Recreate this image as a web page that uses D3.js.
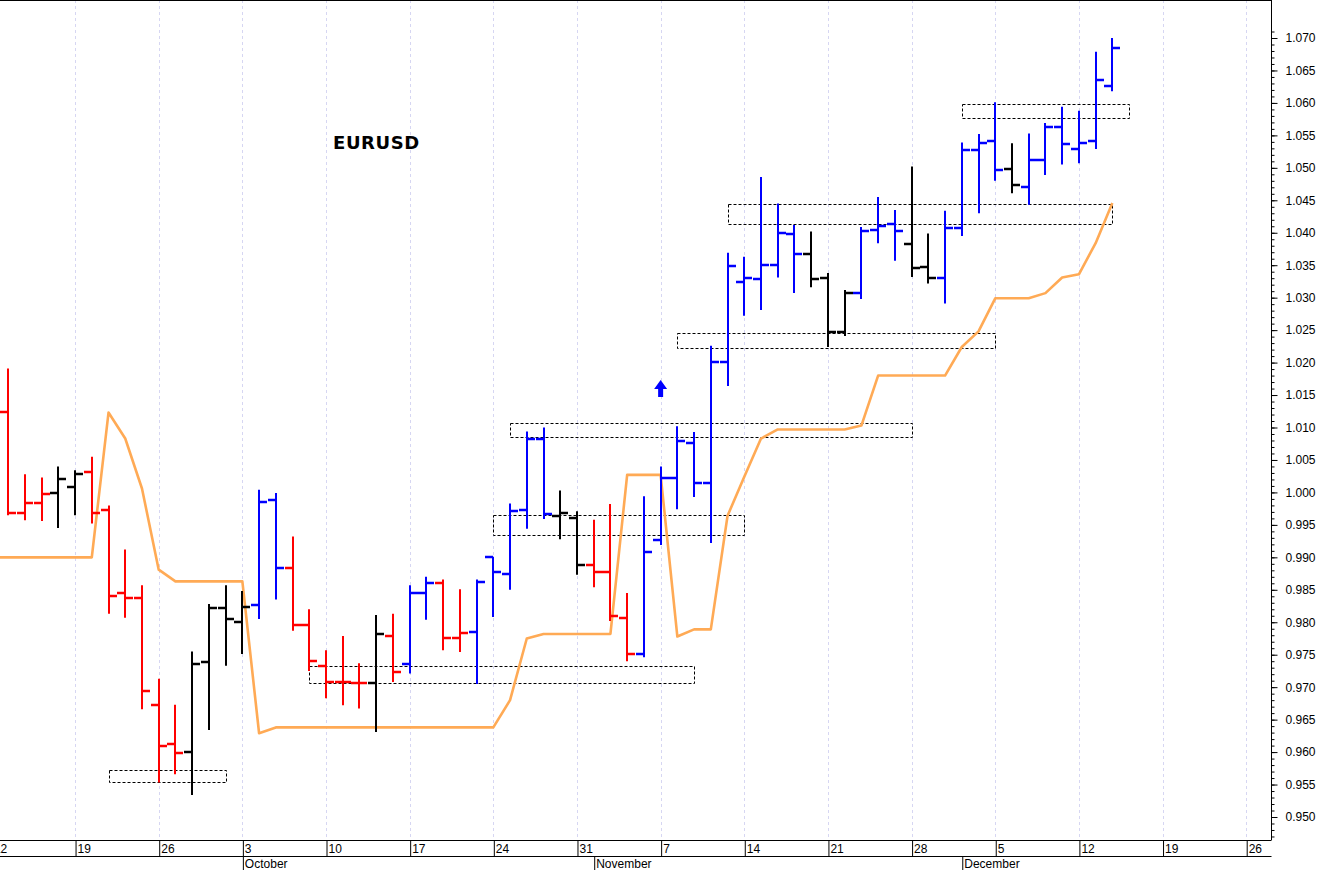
<!DOCTYPE html>
<html><head><meta charset="utf-8">
<script src="https://cdn.jsdelivr.net/npm/d3@7"></script>
<style>body{margin:0;background:#fff}svg{display:block}</style>
</head><body>
<script>
// ---- data (trading-day index: 0 = Mon 12 Sep) ----
const barIndex = d3.range(1, 68);
const opens  = [1.0124,0.9969,0.9983,0.9999,1.0009,1.0031,0.9973,0.9845,0.9837,0.9672,0.9612,0.9600,0.9738,0.9822,0.9800,0.9826,0.9988,0.9883,0.9795,0.9733,0.9708,0.9706,0.9706,0.9779,0.9736,0.9845,0.9860,0.9775,0.9785,0.9900,0.9874,0.9973,1.0082,0.9964,0.9960,0.9888,0.9877,0.9807,0.9751,0.9927,1.0022,1.0076,1.0014,1.0201,1.0324,1.0328,1.0350,1.0398,1.0367,1.0331,1.0247,1.0307,1.0404,1.0413,1.0382,1.0347,1.0330,1.0407,1.0527,1.0541,1.0498,1.0471,1.0512,1.0563,1.0529,1.0541,1.0626];
const highs  = [1.0191,1.0028,1.0023,1.0040,1.0034,1.0055,0.9980,0.9912,0.9857,0.9713,0.9673,0.9755,0.9828,0.9857,0.9848,1.0004,0.9999,0.9932,0.9820,0.9757,0.9779,0.9737,0.9811,0.9813,0.9857,0.9870,0.9866,0.9851,0.9866,0.9901,0.9983,1.0094,1.0100,1.0003,0.9971,0.9958,0.9982,0.9845,0.9994,1.0040,1.0102,1.0093,1.0226,1.0369,1.0363,1.0486,1.0445,1.0412,1.0402,1.0338,1.0312,1.0409,1.0455,1.0435,1.0502,1.0399,1.0434,1.0539,1.0552,1.0601,1.0538,1.0553,1.0569,1.0594,1.0588,1.0679,1.0700];
const lows   = [0.9965,0.9957,0.9956,0.9945,0.9965,0.9952,0.9813,0.9807,0.9666,0.9553,0.9566,0.9534,0.9634,0.9733,0.9751,0.9805,0.9835,0.9787,0.9725,0.9683,0.9672,0.9667,0.9631,0.9708,0.9721,0.9804,0.9757,0.9754,0.9705,0.9808,0.9850,0.9944,0.9959,0.9928,0.9873,0.9854,0.9802,0.9740,0.9746,0.9919,0.9974,0.9993,0.9922,1.0164,1.0272,1.0281,1.0331,1.0307,1.0316,1.0224,1.0241,1.0298,1.0384,1.0357,1.0332,1.0322,1.0291,1.0395,1.0430,1.0480,1.0461,1.0443,1.0489,1.0505,1.0507,1.0529,1.0618];
const closes = [0.9969,0.9983,0.9998,1.0021,1.0028,0.9969,0.9840,0.9837,0.9694,0.9610,0.9598,0.9736,0.9822,0.9805,0.9824,0.9985,0.9884,0.9796,0.9740,0.9708,0.9708,0.9706,0.9782,0.9724,0.9845,0.9860,0.9775,0.9783,0.9862,0.9877,0.9971,1.0083,0.9966,0.9968,0.9888,0.9877,0.9809,0.9751,0.9908,1.0022,1.0079,1.0015,1.0201,1.0349,1.0330,1.0350,1.0399,1.0367,1.0329,1.0247,1.0307,1.0402,1.0411,1.0403,1.0345,1.0330,1.0407,1.0527,1.0539,1.0497,1.0473,1.0512,1.0563,1.0536,1.0539,1.0636,1.0684];
const barColors = "rrrkkrrrrrrkkkkbbrrrrrkrbbrrbbbbbkkrrrbbbbbbbbbbkkkbbbkkbbbbkbbbbbb";

const lineIndex = d3.range(0, 68);
const lineValues = [0.9900,0.9900,0.9900,0.9900,0.9900,0.9900,0.9900,1.0123,1.0083,1.0006,0.9881,0.9863,0.9863,0.9863,0.9863,0.9863,0.9629,0.9638,0.9638,0.9638,0.9638,0.9638,0.9638,0.9638,0.9638,0.9638,0.9638,0.9638,0.9638,0.9638,0.9638,0.9680,0.9775,0.9782,0.9782,0.9782,0.9782,0.9782,1.0027,1.0027,1.0027,0.9778,0.9789,0.9789,0.9964,1.0024,1.0083,1.0097,1.0097,1.0097,1.0097,1.0097,1.0103,1.0180,1.0180,1.0180,1.0180,1.0180,1.0224,1.0248,1.0299,1.0299,1.0299,1.0307,1.0331,1.0336,1.0384,1.0446];

const boxStart = [7, 19, 30, 31, 41, 44, 58];
const boxEnd   = [14, 42, 45, 55, 60, 67, 68];
const boxHigh  = [0.9572, 0.9732, 0.99645, 1.0107, 1.0245, 1.0445, 1.0599];
const boxLow   = [0.9554, 0.9706, 0.9934, 1.0086, 1.0222, 1.0413, 1.0576];

const arrowIndex = [40];
const arrowTop = [1.0173];
const arrowBottom = [1.0147];

const weekIndex  = [0,5,10,15,20,25,30,35,40,45,50,55,60,65,70,75];
const weekLabels = ["12","19","26","3","10","17","24","31","7","14","21","28","5","12","19","26"];
const monthIndex  = [15, 36, 58];
const monthLabels = ["October","November","December"];
const priceTicks = d3.range(0, 25).map(k => +(0.950 + k*0.005).toFixed(3));
const priceMinor = d3.range(0, 126).map(k => +(0.946 + k*0.001).toFixed(3));
const title = "EURUSD";

// ---- layout ----
const W = 1319, H = 870, plotR = 1271.5, plotB = 840;
const x = d3.scaleLinear().domain([0, 75]).range([-8.6, 1246.2]);
const y = d3.scaleLinear().domain([0.950, 1.070]).range([817, 38]);
const col = {r: "#ff0000", b: "#0000ff", k: "#000000"};

const svg = d3.select("body").append("svg").attr("width", W).attr("height", H)
  .style("font-family", "Arial, 'Liberation Sans', sans-serif");

svg.append("defs").append("clipPath").attr("id", "plotclip")
  .append("rect").attr("x", 0).attr("y", 0).attr("width", plotR).attr("height", plotB);

// grid
svg.append("g").selectAll("line").data(weekIndex).join("line")
  .attr("x1", d => Math.round(x(d)) + 0.5).attr("x2", d => Math.round(x(d)) + 0.5)
  .attr("y1", 0).attr("y2", plotB)
  .attr("stroke", "#d6d6f2").attr("stroke-width", 1).attr("stroke-dasharray", "3,3");

const plot = svg.append("g").attr("clip-path", "url(#plotclip)");

// title
plot.append("text").attr("x", 333).attr("y", 149).text(title)
  .style("font-family", "'DejaVu Sans', Verdana, sans-serif")
  .style("font-weight", "bold").style("font-size", "18px").style("letter-spacing", "0.6px");

// boxes
const boxes = boxStart.map((s, i) => ({s, e: boxEnd[i], hi: boxHigh[i], lo: boxLow[i]}));
plot.append("g").selectAll("rect").data(boxes).join("rect")
  .attr("x", d => Math.round(x(d.s)) + 0.5).attr("y", d => Math.round(y(d.hi)) + 0.5)
  .attr("width", d => Math.round(x(d.e)) - Math.round(x(d.s)))
  .attr("height", d => Math.round(y(d.lo)) - Math.round(y(d.hi)))
  .attr("fill", "none").attr("stroke", "#000").attr("stroke-width", 1)
  .attr("stroke-dasharray", "3,2");

// orange line
plot.append("path").datum(lineIndex)
  .attr("d", d3.line().x(i => x(i)).y(i => y(lineValues[i])))
  .attr("fill", "none").attr("stroke", "#ffaa55").attr("stroke-width", 2.6)
  .attr("stroke-linejoin", "round");

// bars
const bars = barIndex.map((idx, k) => ({idx, o: opens[k], h: highs[k], l: lows[k], c: closes[k], col: col[barColors[k]]}));
const bg = plot.append("g").selectAll("g").data(bars).join("g")
  .attr("stroke", d => d.col).attr("stroke-width", 2);
bg.append("line")
  .attr("x1", d => Math.round(x(d.idx))).attr("x2", d => Math.round(x(d.idx)))
  .attr("y1", d => y(d.h)).attr("y2", d => y(d.l));
bg.append("line")
  .attr("x1", d => Math.round(x(d.idx)) - 8).attr("x2", d => Math.round(x(d.idx)))
  .attr("y1", d => Math.round(y(d.o))).attr("y2", d => Math.round(y(d.o)))
  .attr("stroke-width", 2.5);
bg.append("line")
  .attr("x1", d => Math.round(x(d.idx))).attr("x2", d => Math.round(x(d.idx)) + 8)
  .attr("y1", d => Math.round(y(d.c))).attr("y2", d => Math.round(y(d.c)))
  .attr("stroke-width", 2.5);

// arrow
const arrows = arrowIndex.map((idx, i) => ({idx, t: arrowTop[i], b: arrowBottom[i]}));
plot.append("g").selectAll("path").data(arrows).join("path")
  .attr("d", d => {
    const cx = x(d.idx), t = y(d.t), b = y(d.b), hh = (b - t) * 0.52;
    return `M${cx},${t} L${cx+6.5},${t+hh} L${cx+2.5},${t+hh} L${cx+2.5},${b} L${cx-2.5},${b} L${cx-2.5},${t+hh} L${cx-6.5},${t+hh} Z`;
  })
  .attr("fill", "#0000ff");

// frame
svg.append("line").attr("x1", 0).attr("x2", plotR).attr("y1", 0.5).attr("y2", 0.5).attr("stroke", "#000");

// right price axis
const ya = svg.append("g").attr("transform", `translate(${plotR},0)`);
ya.call(d3.axisRight(y).tickValues(priceMinor.filter(v => y(v) > 2 && y(v) < plotB - 2)).tickSize(3).tickFormat(""))
  .call(g => g.select(".domain").remove());
const yb = svg.append("g").attr("transform", `translate(${plotR},0)`);
yb.call(d3.axisRight(y).tickValues(priceTicks).tickSize(6).tickPadding(8).tickFormat(d3.format(".3f")))
  .call(g => g.select(".domain").remove());
yb.selectAll("text").style("font-size", "12px").style("font-family", "Arial, 'Liberation Sans', sans-serif").attr("fill", "#000");
svg.selectAll(".tick line").attr("stroke", "#000");
svg.append("line").attr("x1", plotR).attr("x2", plotR).attr("y1", 0).attr("y2", plotB).attr("stroke", "#000");

// bottom date axis
svg.append("line").attr("x1", 0).attr("x2", plotR).attr("y1", plotB + 0.5).attr("y2", plotB + 0.5).attr("stroke", "#000");
svg.append("line").attr("x1", 0).attr("x2", plotR).attr("y1", 856.5).attr("y2", 856.5).attr("stroke", "#000");
const xa = svg.append("g").attr("transform", `translate(0,${plotB})`);
xa.call(d3.axisBottom(x).tickValues(weekIndex).tickSize(16).tickFormat((d, i) => weekLabels[i]))
  .call(g => g.select(".domain").remove());
xa.selectAll(".tick line").attr("stroke", "#000").attr("transform", "translate(0.5,0)");
xa.selectAll(".tick text").attr("x", 2).attr("y", 13).attr("dy", null)
  .attr("text-anchor", "start").attr("fill", "#000")
  .style("font-size", "12px").style("font-family", "Arial, 'Liberation Sans', sans-serif");
const ma = svg.append("g").attr("transform", "translate(0,856)");
ma.call(d3.axisBottom(x).tickValues(monthIndex).tickSize(14).tickFormat((d, i) => monthLabels[i]))
  .call(g => g.select(".domain").remove());
ma.selectAll(".tick line").attr("stroke", "#000").attr("transform", "translate(0.5,0)");
ma.selectAll(".tick text").attr("x", 2).attr("y", 12).attr("dy", null)
  .attr("text-anchor", "start").attr("fill", "#000")
  .style("font-size", "12px").style("font-family", "Arial, 'Liberation Sans', sans-serif");
</script>
</body></html>
